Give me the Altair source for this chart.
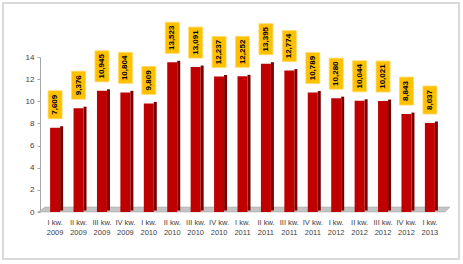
import altair as alt
import pandas as pd

quarters = ["I kw.", "II kw.", "III kw.", "IV kw.", "I kw.", "II kw.", "III kw.", "IV kw.",
            "I kw.", "II kw.", "III kw.", "IV kw.", "I kw.", "II kw.", "III kw.", "IV kw.", "I kw."]
years = ["2009", "2009", "2009", "2009", "2010", "2010", "2010", "2010",
         "2011", "2011", "2011", "2011", "2012", "2012", "2012", "2012", "2013"]
values = [7.609, 9.376, 10.945, 10.804, 9.809, 13.523, 13.091, 12.237,
          12.252, 13.395, 12.774, 10.789, 10.280, 10.044, 10.021, 8.843, 8.037]
y_ticks = [0, 2, 4, 6, 8, 10, 12, 14]

cats = [f"{q}\n{y}" for q, y in zip(quarters, years)]
df = pd.DataFrame({"cat": cats, "v": values})

W, H = 405, 155
FONT = "Liberation Sans"

x_enc = alt.X("cat:N", sort=cats,
              scale=alt.Scale(paddingInner=0.55, paddingOuter=0.42),
              axis=alt.Axis(title=None, labelAngle=0, domain=False, ticks=False,
                            labelExpr="split(datum.value, '\\n')",
                            labelFontSize=7.5, labelColor="#404040", labelFont=FONT,
                            labelPadding=6, labelLineHeight=10, labelOverlap=False))
y_scale = alt.Scale(domain=[0, 14], nice=False, zero=True)
y_enc = alt.Y("v:Q", scale=y_scale,
              axis=alt.Axis(title=None, values=y_ticks, grid=False, domainColor="#A6A6A6",
                            tickColor="#A6A6A6", tickSize=3, labelFontSize=8,
                            labelColor="#404040", labelFont=FONT, labelPadding=3,
                            labelOverlap=False))

base = alt.Chart(df).transform_calculate(
    lab="replace(format(datum.v, '.3f'), '.', ',')")

border = base.mark_rect(fill=None, stroke="#D9D9D9", strokeWidth=2).encode(
    x=alt.value(-37), x2=alt.value(419), y=alt.value(-54), y2=alt.value(202))

floor = alt.Chart(pd.DataFrame({"a": [0]})).mark_point(
    shape="M-0.975,-0.0123L1.01,-0.0123L0.985,0.0123L-1.01,0.0123Z",
    filled=True, fill="#C4C4C4", stroke="#A0A0A0", strokeWidth=0.5, opacity=1,
    size=408 ** 2).encode(x=alt.value(204), y=alt.value(152.5))

side = base.mark_bar(color="#7A0000", width=3, xOffset=6.5, yOffset=-1.5).encode(
    x=x_enc, y=y_enc)

front = base.mark_bar(color="#C00000", width=10).encode(x=x_enc, y=y_enc)


def box_and_text(cond, height, offset):
    sub = base.transform_filter(cond)
    half_w = 14 / height / 2
    shape = f"M-{half_w:.4f},-0.5L{half_w:.4f},-0.5L{half_w:.4f},0.5L-{half_w:.4f},0.5Z"
    box = sub.mark_point(shape=shape, filled=True, fill="#FFC000", stroke="#FFD966",
                         strokeWidth=0.8, opacity=1, size=(height * 2) ** 2,
                         yOffset=offset).encode(x=x_enc, y=y_enc)
    txt = sub.mark_text(angle=270, fontSize=8, fontWeight="bold", font=FONT,
                        color="#000000", yOffset=offset, align="center",
                        baseline="middle").encode(x=x_enc, y=y_enc, text="lab:N")
    return box, txt


box_s, txt_s = box_and_text("datum.v < 10", 28, -23)
box_l, txt_l = box_and_text("datum.v >= 10", 31, -24.5)

chart = alt.layer(border, floor, side, front, box_s, box_l, txt_s, txt_l).properties(
    width=W, height=H,
    autosize=alt.AutoSizeParams(type="none"),
    padding={"left": 40, "top": 57, "right": 18, "bottom": 52},
    background="white",
).configure_view(stroke=None)

chart.save("out.html", embed_options={"renderer": "svg", "actions": False})
